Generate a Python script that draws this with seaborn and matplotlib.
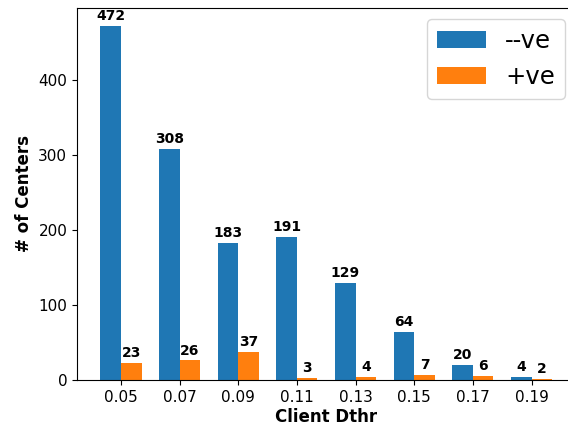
import seaborn as sns
import matplotlib.pyplot as plt
import pandas as pd

# values
thresholds = ['0.05', '0.07', '0.09', '0.11', '0.13', '0.15', '0.17', '0.19']
neg_counts = [472, 308, 183, 191, 129, 64, 20, 4]
pos_counts = [23, 26, 37, 3, 4, 7, 6, 2]
series_names = ['--ve', '+ve']

df = pd.DataFrame({
    'thr': thresholds * 2,
    'count': neg_counts + pos_counts,
    'kind': [series_names[0]] * len(thresholds) + [series_names[1]] * len(thresholds),
})

fig = plt.figure(figsize=(5.68, 4.29), dpi=100)
ax = fig.add_axes([0.1356, 0.1142, 0.8776, 0.8672])

sns.barplot(data=df, x='thr', y='count', hue='kind', order=thresholds,
            hue_order=series_names, palette=['#1f77b4', '#ff7f0e'],
            saturation=1, width=0.7, gap=0, ax=ax)

for c in ax.containers:
    ax.bar_label(c, fontsize=10, fontweight='bold', padding=2)

ax.set_xlim(-0.75, 7.75)
ax.set_ylim(0, 495.6)
ax.set_yticks([0, 100, 200, 300, 400])
ax.tick_params(labelsize=11)
ax.set_xlabel('Client Dthr', fontsize=12, fontweight='bold', labelpad=2)
ax.set_ylabel('# of Centers', fontsize=12, fontweight='bold')
ax.legend(loc='upper right', fontsize=17.5, handlelength=2.0, borderaxespad=0.45)

fig.savefig('out.png', dpi=100)
